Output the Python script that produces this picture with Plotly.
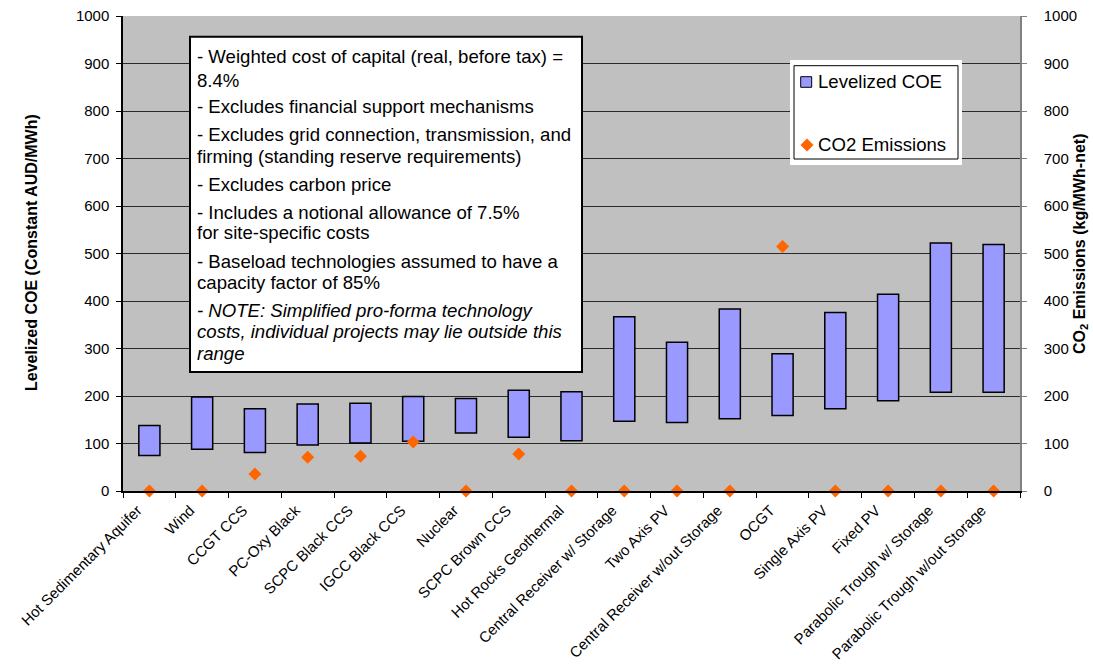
import plotly.graph_objects as go

categories = ["Hot Sedimentary Aquifer", "Wind", "CCGT CCS", "PC-Oxy Black", "SCPC Black CCS",
              "IGCC Black CCS", "Nuclear", "SCPC Brown CCS", "Hot Rocks Geothermal",
              "Central Receiver w/ Storage", "Two Axis PV", "Central Receiver w/out Storage",
              "OCGT", "Single Axis PV", "Fixed PV", "Parabolic Trough w/ Storage",
              "Parabolic Trough w/out Storage"]
coe_low = [75, 88, 81, 97, 101, 105, 122, 113, 106, 147, 144, 152, 159, 173, 190, 208, 208]
coe_high = [138, 198, 173, 183, 185, 199, 195, 212, 209, 367, 313, 383, 289, 376, 414, 522, 519]
co2 = [0, 0, 36, 71, 73, 103, 0, 78, 0, 0, 0, 0, 515, 0, 0, 0, 0]

notes = [
    ("- Weighted cost of capital (real, before tax) =", 56),
    ("8.4%", 80),
    ("- Excludes financial support mechanisms", 106.7),
    ("- Excludes grid connection, transmission, and", 134.3),
    ("firming (standing reserve requirements)", 156.7),
    ("- Excludes carbon price", 184),
    ("- Includes a notional allowance of 7.5%", 212.3),
    ("for site-specific costs", 232.7),
    ("- Baseload technologies assumed to have a", 261),
    ("capacity factor of 85%", 282.3),
    ("<i>- NOTE: Simplified pro-forma technology</i>", 311),
    ("<i>costs, individual projects may lie outside this</i>", 331.7),
    ("<i>range</i>", 353.3),
]

FONT = "Arial, Liberation Sans, sans-serif"
W, H = 1093, 664
L, R, T, B = 123, 73, 16, 173
PW, PH = W - L - R, H - T - B


def px(x):
    return (x - L) / PW


def py(y):
    return (H - B - y) / PH


fig = go.Figure()
fig.add_trace(go.Bar(
    x=categories, y=[h - l for h, l in zip(coe_high, coe_low)], base=coe_low,
    width=0.4, marker=dict(color="#9999FF", line=dict(color="black", width=1.5)),
    name="Levelized COE", showlegend=False, hoverinfo="skip"))
fig.add_trace(go.Scatter(
    x=categories, y=co2, mode="markers", yaxis="y2", cliponaxis=False,
    marker=dict(symbol="diamond", size=10, color="#FF6600"),
    name="CO2 Emissions", showlegend=False))

shapes = []
annotations = []
# note box
shapes.append(dict(type="rect", xref="paper", yref="paper", x0=px(190), x1=px(582),
                   y0=py(372), y1=py(36.7), fillcolor="white", line=dict(color="black", width=2)))
for txt, yy in notes:
    annotations.append(dict(text=txt, xref="paper", yref="paper", x=px(195), y=py(yy),
                            xanchor="left", yanchor="middle", showarrow=False,
                            font=dict(family=FONT, size=18.6, color="black")))
# legend
shapes.append(dict(type="rect", xref="paper", yref="paper", x0=px(790), x1=px(962),
                   y0=py(165), y1=py(60), fillcolor="white", line=dict(width=0)))
shapes.append(dict(type="rect", xref="paper", yref="paper", x0=px(794), x1=px(958),
                   y0=py(159), y1=py(65.7), fillcolor="white", line=dict(color="black", width=1)))
shapes.append(dict(type="rect", xref="paper", yref="paper", x0=px(800.7), x1=px(811.7),
                   y0=py(87.3), y1=py(76.7), fillcolor="#9999FF", line=dict(color="black", width=1)))
cx, cy, r = 807, 145, 6.5
shapes.append(dict(type="path", xref="paper", yref="paper",
                   path=f"M {px(cx)},{py(cy - r)} L {px(cx + r)},{py(cy)} L {px(cx)},{py(cy + r)} L {px(cx - r)},{py(cy)} Z",
                   fillcolor="#FF6600", line=dict(width=0)))
annotations.append(dict(text="Levelized COE", xref="paper", yref="paper", x=px(816), y=py(81.7),
                        xanchor="left", yanchor="middle", showarrow=False,
                        font=dict(family=FONT, size=18.6, color="black")))
annotations.append(dict(text="CO2 Emissions", xref="paper", yref="paper", x=px(816), y=py(144),
                        xanchor="left", yanchor="middle", showarrow=False,
                        font=dict(family=FONT, size=18.6, color="black")))
# axis titles
annotations.append(dict(text="<b>Levelized COE (Constant AUD/MWh)</b>", xref="paper", yref="paper",
                        x=px(32), y=py(253), textangle=-90, xanchor="center", yanchor="middle",
                        showarrow=False, font=dict(family=FONT, size=16, color="black")))
annotations.append(dict(text="<b>CO<sub>2</sub> Emissions (kg/MWh-net)</b>", xref="paper", yref="paper",
                        x=px(1080), y=py(244), textangle=-90, xanchor="center", yanchor="middle",
                        showarrow=False, font=dict(family=FONT, size=16, color="black")))

fig.update_layout(
    width=W, height=H, autosize=False,
    margin=dict(l=L, r=R, t=T, b=B, pad=0),
    paper_bgcolor="white", plot_bgcolor="#C0C0C0",
    font=dict(family=FONT, color="black"),
    shapes=shapes, annotations=annotations,
    xaxis=dict(type="category", range=[-0.5, 16.5], tickson="boundaries", ticks="outside",
               ticklen=5, tickcolor="black", showline=True, linecolor="black", linewidth=1.5,
               tickangle=-45, tickfont=dict(size=15, family=FONT, color="black"),
               ticklabelstandoff=3, ticklabelshift=-12,
               automargin=False, showgrid=False, fixedrange=True),
    yaxis=dict(range=[0, 1000], dtick=100, showgrid=True, gridcolor="#2a2a2a", gridwidth=1,
               zeroline=False, showline=True, linecolor="black", linewidth=1.5, ticks="outside",
               ticklen=5, tickcolor="black", tickfont=dict(size=15, family=FONT, color="black"),
               ticklabelstandoff=4, automargin=False, fixedrange=True),
    yaxis2=dict(range=[0, 1000], dtick=100, overlaying="y", side="right", showgrid=False,
                zeroline=False, showline=True, linecolor="#808080", linewidth=1.5, ticks="outside",
                ticklen=5, tickcolor="#808080", tickfont=dict(size=15, family=FONT, color="black"),
                ticklabelstandoff=14, automargin=False, fixedrange=True),
)

fig.write_html("out.html")
